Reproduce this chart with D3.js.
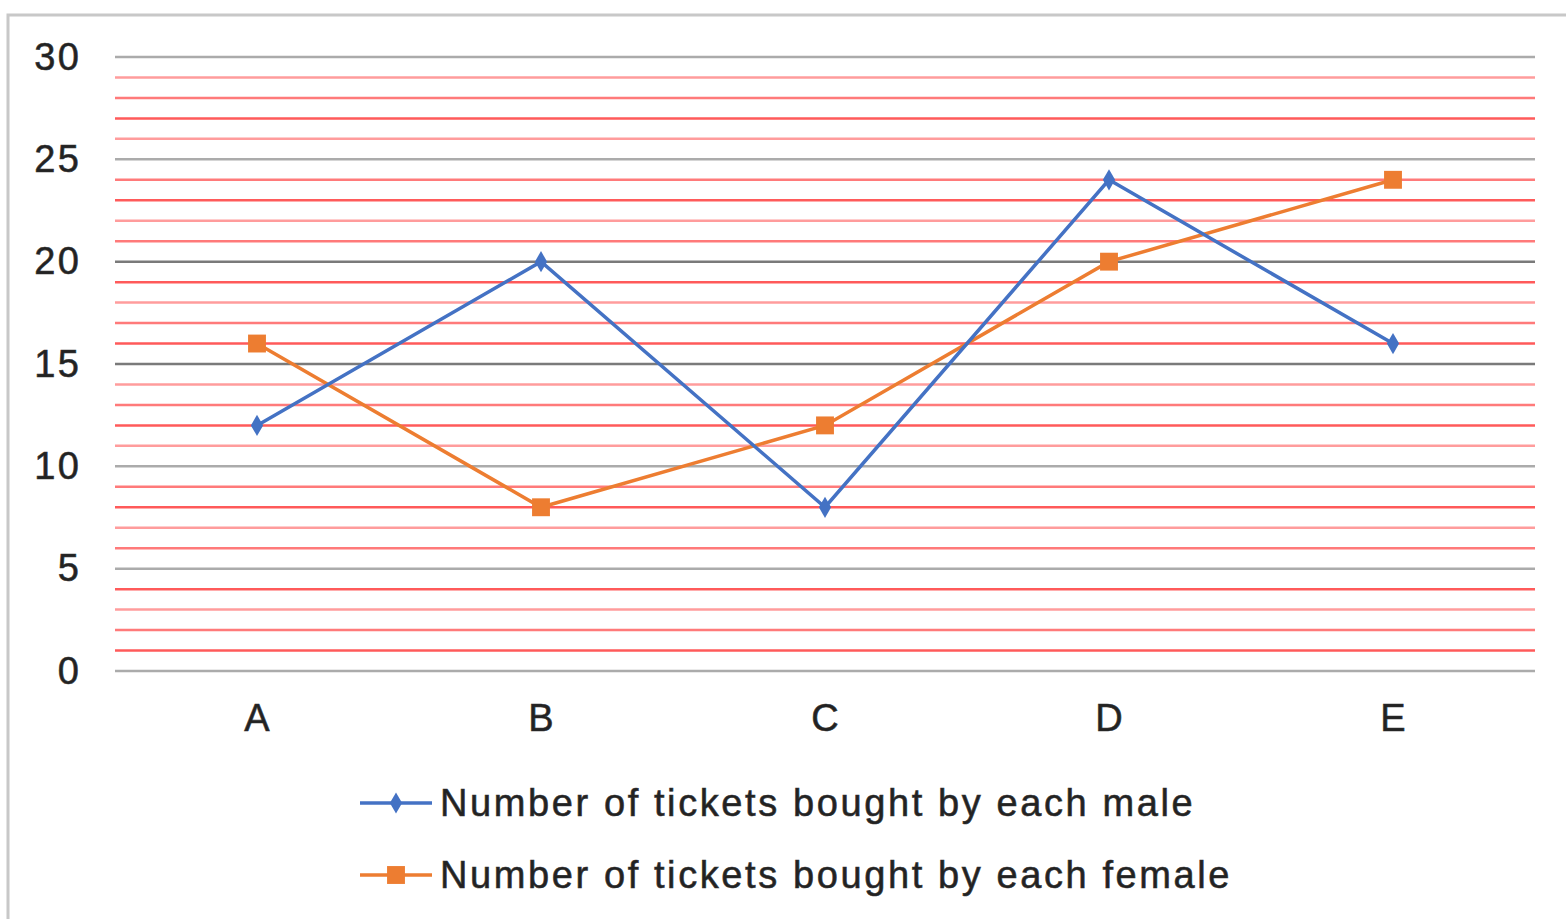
<!DOCTYPE html>
<html>
<head>
<meta charset="utf-8">
<script src="https://cdn.jsdelivr.net/npm/d3@7"></script>
<style>
html,body{margin:0;padding:0;background:#fff;}
svg{display:block;}
text{font-family:"Liberation Sans",Arial,sans-serif;fill:#222;stroke:#333;stroke-width:0.6px;}
</style>
</head>
<body>
<svg id="chart" width="1566" height="919"></svg>
<script>
const categories = ["A","B","C","D","E"];
const maleValues = [12,20,8,24,16];
const femaleValues = [16,8,12,20,24];
const seriesNames = ["Number of tickets bought by each male","Number of tickets bought by each female"];
const yTicks = [0,5,10,15,20,25,30];
const minorTicks = d3.range(0,31,1).filter(v => v % 5 !== 0);

const svg = d3.select("#chart");
const W = 1566, H = 919;
const margin = {left:115, right:31, top:57, bottom:248};
const x = d3.scaleBand().domain(categories).range([margin.left, W - margin.right]).padding(0);
const y = d3.scaleLinear().domain([0,30]).range([H - margin.bottom, margin.top]);

// outer frame
svg.append("rect").attr("x",8).attr("y",15).attr("width",W+20).attr("height",H+20)
  .attr("fill","none").attr("stroke","#c8c8c8").attr("stroke-width",3);

// minor gridlines
svg.append("g").selectAll("line").data(minorTicks).join("line")
  .attr("x1",margin.left).attr("x2",W - margin.right)
  .attr("y1",d=>y(d)).attr("y2",d=>y(d))
  .attr("stroke",(d,i)=> i%3===0 ? "#ff5a5a" : (i%3===1 ? "#ff7a7a" : "#ff9c9c"))
  .attr("stroke-width",2.5);

// major gridlines
svg.append("g").selectAll("line").data(yTicks).join("line")
  .attr("x1",margin.left).attr("x2",W - margin.right)
  .attr("y1",d=>y(d)).attr("y2",d=>y(d))
  .attr("stroke",d=> (d===15||d===20) ? "#7a7a7a" : "#ababab")
  .attr("stroke-width",2.5);

const FS = 38, LS = 2.6;

// y axis labels
const yAxis = d3.axisLeft(y).tickValues(yTicks).tickSize(0).tickPadding(0);
const gy = svg.append("g").attr("transform",`translate(${79+LS},0)`).call(yAxis);
gy.select(".domain").remove();
gy.selectAll("text").attr("font-size",FS).attr("letter-spacing",LS).attr("font-family","Liberation Sans, Arial, sans-serif").attr("fill","#222");

// x axis labels
const xAxis = d3.axisBottom(x).tickSize(0).tickPadding(0);
const gx = svg.append("g").attr("transform",`translate(0,${y(0)+33})`).call(xAxis);
gx.select(".domain").remove();
gx.selectAll("text").attr("font-size",FS).attr("font-family","Liberation Sans, Arial, sans-serif").attr("fill","#222");

const cx = d => x(d) + x.bandwidth()/2;
const line = d3.line().x(d=>cx(d[0])).y(d=>y(d[1]));

const male = categories.map((c,i)=>[c,maleValues[i]]);
const female = categories.map((c,i)=>[c,femaleValues[i]]);

const blue = "#4472c4", orange = "#ed7d31";

svg.append("path").datum(female).attr("d",line).attr("fill","none").attr("stroke",orange).attr("stroke-width",3.5);
svg.append("path").datum(male).attr("d",line).attr("fill","none").attr("stroke",blue).attr("stroke-width",3.5);

const diamond = d3.symbol().type(d3.symbolDiamond).size(130);
const square = d3.symbol().type(d3.symbolSquare).size(320);

svg.append("g").selectAll("path").data(female).join("path")
  .attr("d",square).attr("transform",d=>`translate(${cx(d[0])},${y(d[1])})`).attr("fill",orange);
svg.append("g").selectAll("path").data(male).join("path")
  .attr("d",diamond).attr("transform",d=>`translate(${cx(d[0])},${y(d[1])})`).attr("fill",blue);

// legend
const legend = [
  {name:seriesNames[0], color:blue, sym:diamond, y:803},
  {name:seriesNames[1], color:orange, sym:square, y:875}
];
const lg = svg.append("g").selectAll("g").data(legend).join("g").attr("transform",d=>`translate(0,${d.y})`);
lg.append("line").attr("x1",360).attr("x2",432).attr("y1",0).attr("y2",0).attr("stroke",d=>d.color).attr("stroke-width",3.5);
lg.append("path").attr("d",d=>d.sym()).attr("transform","translate(396,0)").attr("fill",d=>d.color);
lg.append("text").attr("x",440).attr("y",0).attr("dy","0.35em").attr("font-size",FS).attr("letter-spacing",LS).text(d=>d.name);
</script>
</body>
</html>
